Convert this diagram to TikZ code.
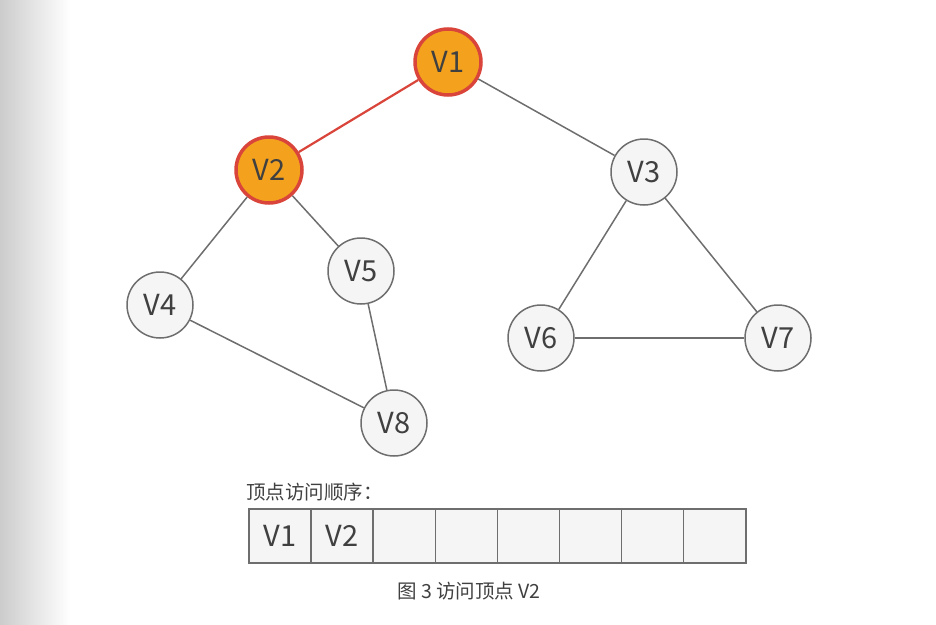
\documentclass[tikz,border=0pt]{standalone}
\usepackage{fontspec}
\setmainfont{Noto Sans CJK SC}
\usetikzlibrary{positioning}

\definecolor{edgegray}{HTML}{6E6E6E}
\definecolor{nodefill}{HTML}{F5F5F5}
\definecolor{visitfill}{HTML}{F4A21E}
\definecolor{visitred}{HTML}{D9453A}
\definecolor{txtgray}{HTML}{404040}

\begin{document}
\begin{tikzpicture}[
  x=1pt, y=-1pt,
  font=\fontsize{29}{33}\selectfont,
  vertex/.style={circle, draw=edgegray, fill=nodefill, line width=1.5pt,
    minimum size=66pt, inner sep=0pt, text=txtgray},
  visited/.style={vertex, draw=visitred, fill=visitfill, line width=3.5pt},
  link/.style={draw=edgegray, line width=1.5pt},
  cell/.style={draw=edgegray, fill=nodefill, line width=1.5pt, minimum width=62.1pt,
    minimum height=54pt, inner sep=0pt, outer sep=0pt, text=txtgray},
]
\useasboundingbox (0,0) rectangle (936,624);
\fill[left color=black!20, right color=white] (0,0) rectangle (70,624);

% graph
\node[visited] (v1) at (448,62) {V1};
\node[visited] (v2) at (269,170) {V2};
\node[vertex] (v3) at (644,172) {V3};
\node[vertex] (v4) at (160,305) {V4};
\node[vertex] (v5) at (361,271) {V5};
\node[vertex] (v6) at (541,338) {V6};
\node[vertex] (v7) at (778,338) {V7};
\node[vertex] (v8) at (394,423) {V8};

\draw[draw=visitred, line width=2.2pt] (v1) -- (v2);
\draw[link] (v1) -- (v3);
\draw[link] (v2) -- (v4);
\draw[link] (v2) -- (v5);
\draw[link] (v4) -- (v8);
\draw[link] (v5) -- (v8);
\draw[link] (v3) -- (v6);
\draw[link] (v3) -- (v7);
\draw[link] (v6) -- (v7);

% visiting order
\node[cell, anchor=north west] (c1) at (249,509) {V1};
\node[cell, right=0pt of c1] (c2) {V2};
\node[cell, right=0pt of c2] (c3) {};
\node[cell, right=0pt of c3] (c4) {};
\node[cell, right=0pt of c4] (c5) {};
\node[cell, right=0pt of c5] (c6) {};
\node[cell, right=0pt of c6] (c7) {};
\node[cell, right=0pt of c7] (c8) {};

\node[anchor=south west, inner sep=0pt, text=txtgray, font=\fontsize{19.5}{22}\selectfont]
  (order) at ([xshift=-3pt, yshift=8pt]c1.north west) {顶点访问顺序：};
\node[text=txtgray, font=\fontsize{19.5}{22}\selectfont] (caption) at (469,591) {图 3 访问顶点 V2};
\end{tikzpicture}
\end{document}
